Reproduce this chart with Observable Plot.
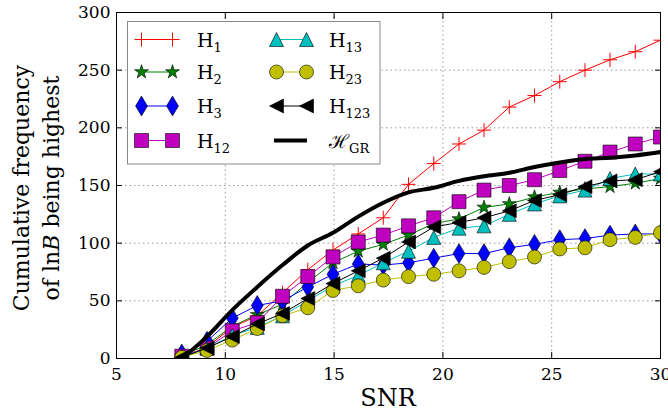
<!DOCTYPE html>
<html><head><meta charset="utf-8">
<script src="https://cdn.jsdelivr.net/npm/d3@7"></script>
<script src="https://cdn.jsdelivr.net/npm/@observablehq/plot@0.6"></script>
<style>
body{margin:0;background:#fff;}
#chart{position:relative;width:668px;height:418px;}
svg{font-family:"DejaVu Serif",serif;}
</style></head><body><div id="chart"></div>
<script>
// ---- data ----
const snr  = [8, 9.16, 10.32, 11.47, 12.63, 13.79, 14.95, 16.11, 17.26, 18.42, 19.58, 20.74, 21.89, 23.05, 24.21, 25.37, 26.53, 27.68, 28.84, 30];
const H1   = [1, 10, 27, 37, 57, 77, 94, 108, 122, 151, 169, 186, 198, 218, 228, 240, 250, 259, 266, 276];
const H2   = [2, 12, 28, 38, 47, 66, 83, 93, 99, 107, 117, 121, 131, 134, 140, 144, 147, 149, 152, 156];
const H3   = [4, 15, 35, 46, 50, 62, 73, 82, 81, 83, 87, 91, 91, 96, 99, 103, 104, 107, 108, 108];
const H12  = [2, 9, 24, 31, 54, 71, 88, 101, 107, 115, 122, 136, 146, 150, 155, 163, 171, 179, 186, 192];
const H13  = [1, 9, 20, 27, 37, 50, 63, 72, 83, 93, 105, 113, 115, 125, 134, 141, 146, 156, 160, 160];
const H23  = [1, 7, 16, 26, 37, 44, 59, 63, 68, 71, 73, 76, 79, 84, 88, 95, 96, 103, 105, 109];
const H123 = [1, 9, 19, 30, 39, 52, 65, 76, 87, 101, 114, 118, 122, 128, 137, 142, 149, 154, 155, 162];
const HGR  = [0, 19, 42, 62, 81, 98, 109, 123, 135, 144, 148, 154, 158, 161, 166, 170, 173, 174, 176, 179];
const xTicks = [5, 10, 15, 20, 25, 30];
const yTicks = [0, 50, 100, 150, 200, 250, 300];
const seriesNames = ["1", "2", "3", "12", "13", "23", "123"];
const seriesValues = [H1, H2, H3, H12, H13, H23, H123];
const seriesColors = ["#ff0000", "#008000", "#0000ff", "#bf00bf", "#00bfbf", "#bfbf00", "#000000"];

// ---- marker shapes (half-size r from symbol area) ----
const R = size => Math.sqrt(size / Math.PI);
const symPlus = {draw(c, s) { const r = R(s); c.moveTo(-r, 0); c.lineTo(r, 0); c.moveTo(0, -r); c.lineTo(0, r); }};
const symStar = {draw(c, s) { const r = R(s) * 1.05, ri = r * 0.382;
  for (let i = 0; i < 10; i++) { const a = -Math.PI / 2 + i * Math.PI / 5, rr = i % 2 ? ri : r;
    const x = rr * Math.cos(a), y = rr * Math.sin(a); i ? c.lineTo(x, y) : c.moveTo(x, y); } c.closePath(); }};
const symThinDiamond = {draw(c, s) { const r = R(s); const h = r * 1.414, w = h * 0.6;
  c.moveTo(0, -h); c.lineTo(w, 0); c.lineTo(0, h); c.lineTo(-w, 0); c.closePath(); }};
const symSquare = {draw(c, s) { const r = R(s); c.rect(-r, -r, 2 * r, 2 * r); }};
const symTriUp = {draw(c, s) { const r = R(s); c.moveTo(0, -r); c.lineTo(r, r); c.lineTo(-r, r); c.closePath(); }};
const symCircle = {draw(c, s) { const r = R(s); c.moveTo(r, 0); c.arc(0, 0, r, 0, 2 * Math.PI); c.closePath(); }};
const symTriLeft = {draw(c, s) { const r = R(s); c.moveTo(-r, 0); c.lineTo(r, -r); c.lineTo(r, r); c.closePath(); }};
const seriesSymbols = [symPlus, symStar, symThinDiamond, symSquare, symTriUp, symCircle, symTriLeft];

const rows = snr.map((x, i) => ({x, gr: HGR[i]}));
const marks = [
  Plot.gridX(xTicks, {stroke: "#9a9a9a", strokeOpacity: 1, strokeWidth: 1, strokeDasharray: "1.5,3"}),
  Plot.gridY(yTicks, {stroke: "#9a9a9a", strokeOpacity: 1, strokeWidth: 1, strokeDasharray: "1.5,3"}),
];
seriesValues.forEach((vals, k) => {
  const data = snr.map((x, i) => ({x, y: vals[i]}));
  const isPlus = k === 0;
  marks.push(Plot.line(data, {x: "x", y: "y", stroke: seriesColors[k], strokeWidth: 1, clip: true}));
  marks.push(Plot.dot(data, {x: "x", y: "y", symbol: seriesSymbols[k], r: 7,
    fill: isPlus ? "none" : seriesColors[k], stroke: isPlus ? seriesColors[k] : "#000",
    strokeWidth: isPlus ? 1 : 0.6, clip: true}));
});
marks.push(Plot.line(rows, {x: "x", y: "gr", stroke: "#000", strokeWidth: 4, curve: "monotone-x", clip: true}));
marks.push(Plot.frame({stroke: "#000", strokeWidth: 1}));
marks.push(Plot.axisX(xTicks, {anchor: "bottom", tickSize: -6, tickPadding: 15, fontSize: 17, label: null}));
marks.push(Plot.axisX(xTicks, {anchor: "top", tickSize: -6, tickFormat: () => "", label: null}));
marks.push(Plot.axisY(yTicks, {anchor: "left", tickSize: -6, tickPadding: 12, fontSize: 17, label: null}));
marks.push(Plot.axisY(yTicks, {anchor: "right", tickSize: -6, tickFormat: () => "", label: null}));

const chart = Plot.plot({
  width: 668, height: 418,
  marginLeft: 116, marginRight: 8, marginTop: 12, marginBottom: 60,
  style: {fontFamily: "DejaVu Serif, serif", fontSize: "16px", color: "#000", background: "#fff"},
  x: {domain: [5, 30], label: null},
  y: {domain: [0, 300], label: null},
  marks
});
document.getElementById("chart").appendChild(chart);

// ---- axis titles & legend ----
const svg = d3.select(chart);
svg.append("text").attr("x", 388).attr("y", 406).attr("text-anchor", "middle")
  .attr("font-size", 24).attr("fill", "#000").text("SNR");
const yl = svg.append("g").attr("transform", "translate(0,188) rotate(-90)");
yl.append("text").attr("x", 0).attr("y", 29).attr("text-anchor", "middle").attr("font-size", 22).text("Cumulative frequency");
const l2 = yl.append("text").attr("x", 0).attr("y", 59).attr("text-anchor", "middle").attr("font-size", 22);
l2.append("tspan").text("of ln");
l2.append("tspan").attr("font-style", "italic").text("B");
l2.append("tspan").text(" being highest");

const lg = svg.append("g");
lg.append("rect").attr("x", 127.5).attr("y", 21.5).attr("width", 252.5).attr("height", 142.5)
  .attr("fill", "#fff").attr("stroke", "#888").attr("stroke-width", 1);
const rowY = [39.5, 72, 106, 140.5];
const entries = seriesNames.map((n, k) => ({sub: n, k}));
entries.push({sub: "GR", k: 7});
entries.forEach((e, idx) => {
  const col = idx < 4 ? 0 : 1, row = idx % 4;
  const y = rowY[row];
  const x1 = col ? 276.5 : 141.5, x2 = col ? 306.5 : 172.5, tx = col ? 329 : 197;
  const g = lg.append("g");
  if (e.k === 7) {
    g.append("line").attr("x1", 274).attr("x2", 307).attr("y1", y).attr("y2", y).attr("stroke", "#000").attr("stroke-width", 4);
  } else {
    g.append("line").attr("x1", x1).attr("x2", x2).attr("y1", y).attr("y2", y).attr("stroke", seriesColors[e.k]).attr("stroke-width", 1);
    const path = d3.symbol(seriesSymbols[e.k], 49 * Math.PI)();
    [x1, x2].forEach(xx => g.append("path").attr("d", path).attr("transform", `translate(${xx},${y})`)
      .attr("fill", e.k === 0 ? "none" : seriesColors[e.k])
      .attr("stroke", e.k === 0 ? seriesColors[e.k] : "#000").attr("stroke-width", e.k === 0 ? 1 : 0.6));
  }
  const t = g.append("text").attr("x", tx).attr("y", y + 7).attr("text-anchor", "start")
    .attr("font-size", 19).attr("fill", "#000");
  t.append("tspan").text(e.k === 7 ? "\u210B" : "H");
  t.append("tspan").attr("font-size", 13).attr("dy", 5).text(e.sub);
});
</script></body></html>
